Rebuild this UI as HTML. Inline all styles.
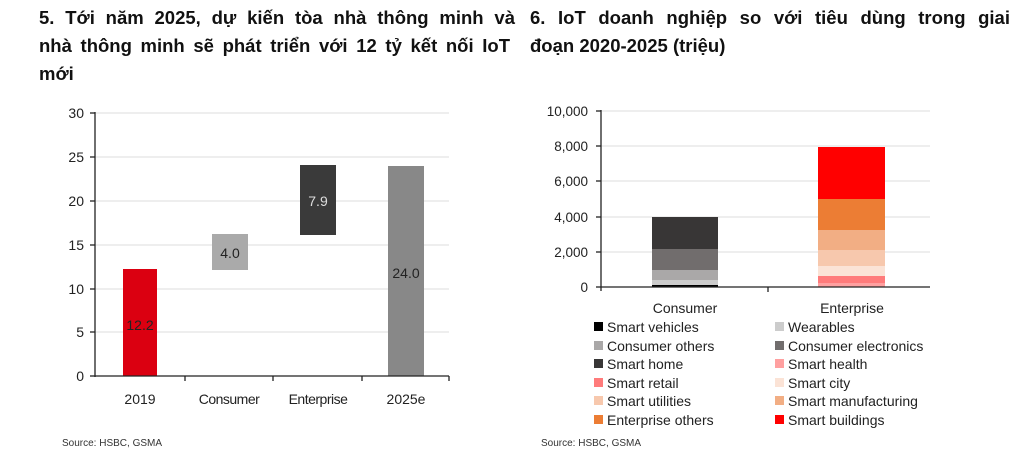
<!DOCTYPE html>
<html><head><style>
body{margin:0;background:#fff;width:1024px;height:473px;overflow:hidden;font-family:"Liberation Sans",sans-serif;}
.t{position:absolute;font-weight:bold;font-size:18.5px;line-height:28px;color:#111;white-space:nowrap;}
.j{text-align:justify;text-align-last:justify;}
</style></head><body>
<div class="t j" style="left:39px;top:4px;width:476px;">5. Tới năm 2025, dự kiến tòa nhà thông minh và</div>
<div class="t j" style="left:39px;top:32px;width:471px;">nhà thông minh sẽ phát triển với 12 tỷ kết nối IoT</div>
<div class="t" style="left:39px;top:60px;">mới</div>
<div class="t j" style="left:530px;top:4px;width:480px;">6. IoT doanh nghiệp so với tiêu dùng trong giai</div>
<div class="t" style="left:530px;top:32px;">đoạn 2020-2025 (triệu)</div>
<svg width="1024" height="473" style="position:absolute;left:0;top:0" font-family="Liberation Sans, sans-serif">
<g stroke="#ddd" stroke-width="1">
<line x1="95" x2="449" y1="113" y2="113"/><line x1="95" x2="449" y1="157" y2="157"/><line x1="95" x2="449" y1="201" y2="201"/><line x1="95" x2="449" y1="245" y2="245"/><line x1="95" x2="449" y1="289" y2="289"/><line x1="95" x2="449" y1="332" y2="332"/>
</g>
<rect x="123" y="269" width="34" height="107" fill="#db0011"/>
<rect x="212" y="234" width="36" height="36" fill="#aaa"/>
<rect x="300" y="165" width="36" height="70" fill="#3a3a3a"/>
<rect x="388" y="166" width="36" height="210" fill="#888"/>
<g stroke="#222" stroke-width="1.3"><line x1="95" x2="95" y1="112" y2="377"/><line x1="95" x2="449" y1="376" y2="376"/>
<line x1="90" x2="95" y1="113" y2="113"/><line x1="90" x2="95" y1="157" y2="157"/><line x1="90" x2="95" y1="201" y2="201"/><line x1="90" x2="95" y1="245" y2="245"/><line x1="90" x2="95" y1="289" y2="289"/><line x1="90" x2="95" y1="332" y2="332"/><line x1="90" x2="95" y1="376" y2="376"/>
<line x1="185" x2="185" y1="376" y2="381"/><line x1="273" x2="273" y1="376" y2="381"/><line x1="362" x2="362" y1="376" y2="381"/><line x1="449" x2="449" y1="376" y2="381"/></g>
<g font-size="14" fill="#222" text-anchor="end"><text x="84" y="118">30</text><text x="84" y="162">25</text><text x="84" y="206">20</text><text x="84" y="250">15</text><text x="84" y="294">10</text><text x="84" y="337">5</text><text x="84" y="381">0</text></g>
<g font-size="14" fill="#222" text-anchor="middle"><text x="140" y="404">2019</text><text x="229" y="404" letter-spacing="-0.5">Consumer</text><text x="318" y="404" letter-spacing="-0.5">Enterprise</text><text x="406" y="404">2025e</text>
<text x="140" y="330">12.2</text><text x="230" y="258">4.0</text><text x="318" y="206" fill="#ddd">7.9</text><text x="406" y="278">24.0</text></g>
<text x="62" y="446" font-size="10" fill="#333">Source: HSBC, GSMA</text>

<g stroke="#ddd"><line x1="601" x2="930" y1="111" y2="111"/><line x1="601" x2="930" y1="146" y2="146"/><line x1="601" x2="930" y1="181" y2="181"/><line x1="601" x2="930" y1="217" y2="217"/><line x1="601" x2="930" y1="252" y2="252"/></g>
<g>
<rect x="652" y="285" width="66" height="2" fill="#000"/>
<rect x="652" y="280" width="66" height="5" fill="#ccc"/>
<rect x="652" y="270" width="66" height="10" fill="#aaa8a8"/>
<rect x="652" y="249" width="66" height="21" fill="#716d6d"/>
<rect x="652" y="217" width="66" height="32" fill="#383636"/>
<rect x="818" y="283" width="67" height="4" fill="#ffa0a0"/>
<rect x="818" y="276" width="67" height="7" fill="#ff7b7b"/>
<rect x="818" y="266" width="67" height="10" fill="#fbe3d6"/>
<rect x="818" y="250" width="67" height="16" fill="#f7c8ad"/>
<rect x="818" y="230" width="67" height="20" fill="#f2ae84"/>
<rect x="818" y="199" width="67" height="31" fill="#ec7d34"/>
<rect x="818" y="147" width="67" height="52" fill="#ff0000"/>
</g>
<g stroke="#222" stroke-width="1.3"><line x1="601" x2="601" y1="110" y2="291"/><line x1="601" x2="930" y1="287" y2="287"/>
<line x1="596" x2="601" y1="111" y2="111"/><line x1="596" x2="601" y1="146" y2="146"/><line x1="596" x2="601" y1="181" y2="181"/><line x1="596" x2="601" y1="217" y2="217"/><line x1="596" x2="601" y1="252" y2="252"/><line x1="596" x2="601" y1="287" y2="287"/><line x1="768" x2="768" y1="287" y2="292"/></g>
<g font-size="13.5" fill="#222" text-anchor="end"><text x="588" y="116">10,000</text><text x="588" y="151">8,000</text><text x="588" y="186">6,000</text><text x="588" y="222">4,000</text><text x="588" y="257">2,000</text><text x="588" y="292">0</text></g>
<g font-size="14" fill="#222" text-anchor="middle"><text x="685" y="313">Consumer</text><text x="852" y="313">Enterprise</text></g>
<g font-size="14" fill="#222">
<rect x="594" y="322" width="9" height="9" fill="#000"/><text x="607" y="332">Smart vehicles</text>
<rect x="594" y="341" width="9" height="9" fill="#aaa8a8"/><text x="607" y="351">Consumer others</text>
<rect x="594" y="359" width="9" height="9" fill="#383636"/><text x="607" y="369">Smart home</text>
<rect x="594" y="378" width="9" height="9" fill="#ff7b7b"/><text x="607" y="388">Smart retail</text>
<rect x="594" y="396" width="9" height="9" fill="#f7c8ad"/><text x="607" y="406">Smart utilities</text>
<rect x="594" y="415" width="9" height="9" fill="#ec7d34"/><text x="607" y="425">Enterprise others</text>
<rect x="775" y="322" width="9" height="9" fill="#ccc"/><text x="788" y="332">Wearables</text>
<rect x="775" y="341" width="9" height="9" fill="#716d6d"/><text x="788" y="351">Consumer electronics</text>
<rect x="775" y="359" width="9" height="9" fill="#ffa0a0"/><text x="788" y="369">Smart health</text>
<rect x="775" y="378" width="9" height="9" fill="#fbe3d6"/><text x="788" y="388">Smart city</text>
<rect x="775" y="396" width="9" height="9" fill="#f2ae84"/><text x="788" y="406">Smart manufacturing</text>
<rect x="775" y="415" width="9" height="9" fill="#ff0000"/><text x="788" y="425">Smart buildings</text>
</g>
<text x="541" y="446" font-size="10" fill="#333">Source: HSBC, GSMA</text>
</svg>
</body></html>
